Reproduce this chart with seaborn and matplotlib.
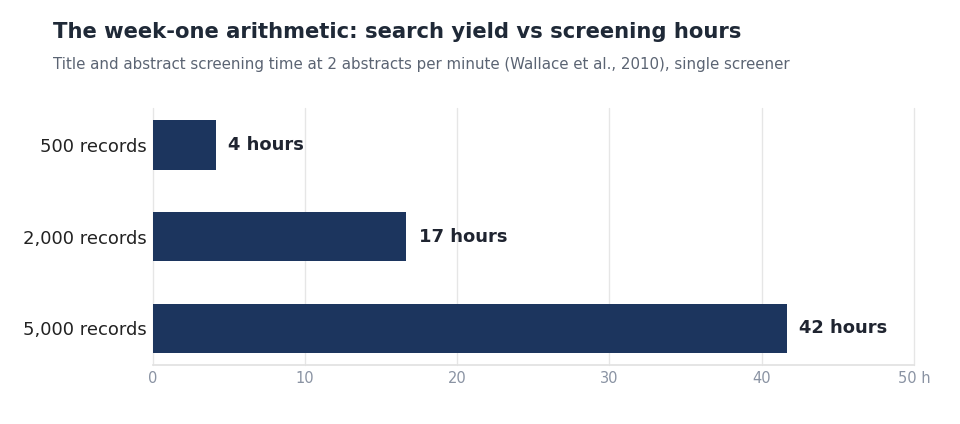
import matplotlib
matplotlib.use("Agg")
import matplotlib.pyplot as plt
import seaborn as sns
import pandas as pd

# records retrieved and the screening hours they cost (2 abstracts/minute)
categories = ["500 records", "2,000 records", "5,000 records"]
hours = [4.17, 16.67, 41.67]
value_labels = ["4 hours", "17 hours", "42 hours"]
x_ticks = [0, 10, 20, 30, 40, 50]
x_tick_labels = ["0", "10", "20", "30", "40", "50 h"]

df = pd.DataFrame({"category": categories, "hours": hours})

sns.set_theme(style="white")
plt.rcParams["font.family"] = ["DejaVu Sans"]

fig = plt.figure(figsize=(9.6, 4.24), dpi=100)
ax = fig.add_axes([0.159, 0.139, 0.793, 0.606])

sns.barplot(data=df, x="hours", y="category", color="#1c355e", saturation=1,
            width=0.54, linewidth=0, ax=ax, zorder=3)

for i, (h, lab) in enumerate(zip(hours, value_labels)):
    ax.text(h + 0.8, i, lab, va="center", ha="left", fontsize=12.9,
            fontweight="bold", color="#1f2430")

ax.set_xlim(0, 50)
ax.set_ylim(2.4, -0.4)
ax.set_xticks(x_ticks)
ax.set_xticklabels(x_tick_labels)
ax.set_xlabel("")
ax.set_ylabel("")
ax.grid(axis="x", color="#e6e6e6", linewidth=1, zorder=0)
for gl in ax.get_xgridlines():
    gl.set_clip_on(False)
for s in ["top", "right", "left"]:
    ax.spines[s].set_visible(False)
ax.spines["bottom"].set_color("#e2e2e2")
ax.tick_params(axis="x", colors="#8a93a3", labelsize=10.5, length=0, pad=4)
ax.tick_params(axis="y", colors="#222222", labelsize=13, length=0, pad=4)

fig.text(0.055, 0.925, "The week-one arithmetic: search yield vs screening hours",
         fontsize=15.2, fontweight="bold", color="#1f2937", va="center")
fig.text(0.055, 0.847, "Title and abstract screening time at 2 abstracts per minute "
         "(Wallace et al., 2010), single screener",
         fontsize=10.8, color="#5b6473", va="center")

fig.savefig("out.png", dpi=100, facecolor="white")
